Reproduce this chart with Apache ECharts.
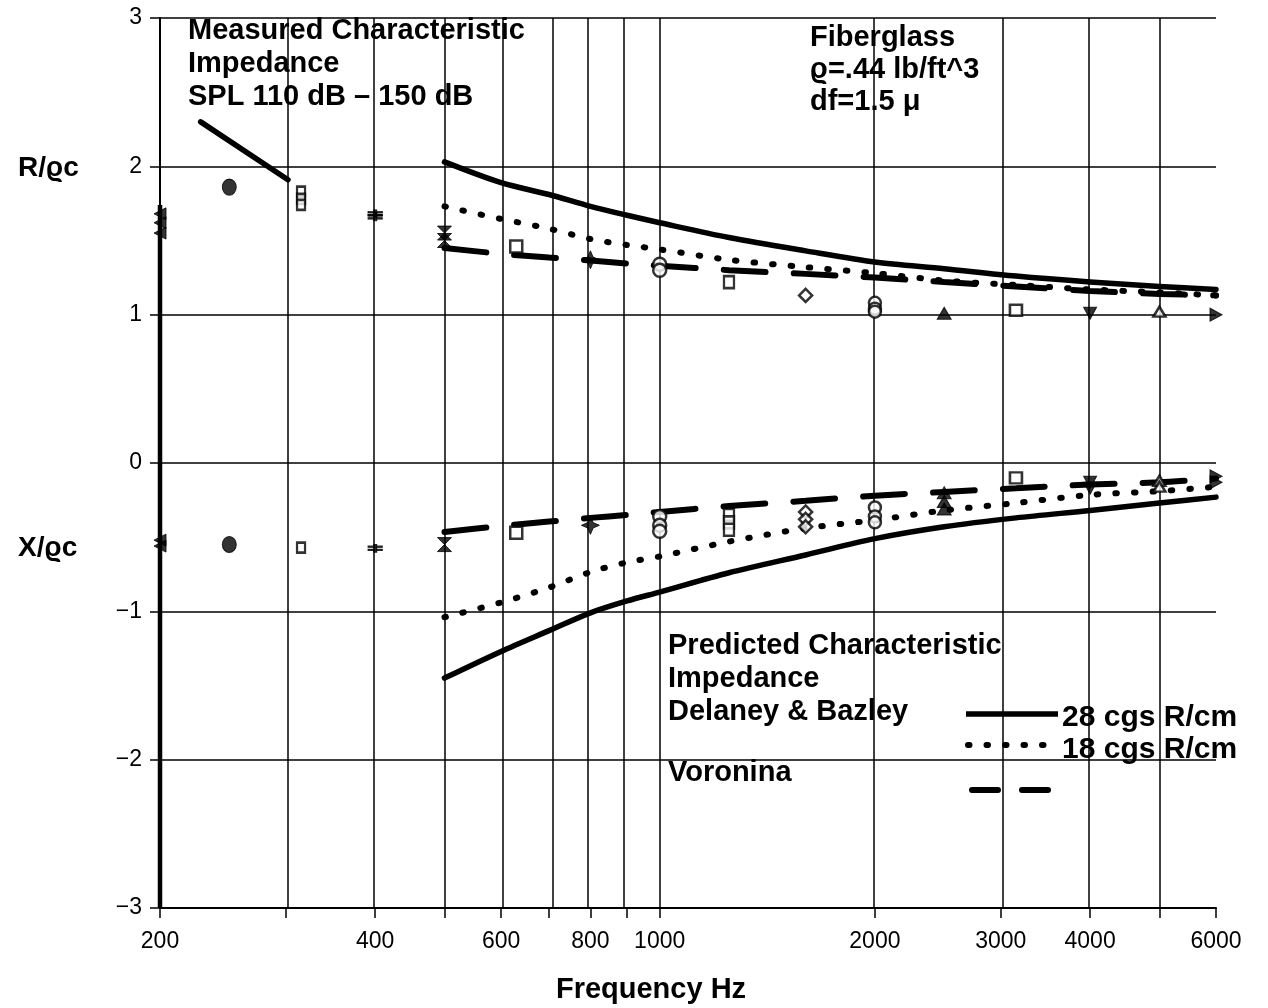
<!DOCTYPE html>
<html><head><meta charset="utf-8">
<script src="https://cdn.jsdelivr.net/npm/echarts@6/dist/echarts.min.js"></script>
<style>html,body{margin:0;padding:0;background:#fff}#c{width:1268px;height:1008px}</style>
</head><body><div id="c"></div>
<script>
// ---------- data ----------
const gridFreqs = [200,300,400,500,600,700,800,900,1000,2000,3000,4000,5000,6000];
const labelFreqs = [200,400,600,800,1000,2000,3000,4000,6000];
const yTicks = [-3,-2,-1,0,1,2,3];

const predFreqs = [500,600,700,800,900,1000,1250,1600,2000,2500,3150,4000,5000,6000];
// Delaney & Bazley, 28 cgs R/cm
const r28 = [2.03,1.89,1.81,1.73,1.67,1.62,1.52,1.43,1.355,1.31,1.26,1.22,1.19,1.17];
const x28 = [-1.45,-1.27,-1.13,-1.01,-0.93,-0.87,-0.74,-0.62,-0.51,-0.43,-0.37,-0.32,-0.27,-0.23];
// Delaney & Bazley, 18 cgs R/cm
const r18 = [1.73,1.645,1.58,1.51,1.47,1.44,1.37,1.32,1.28,1.23,1.20,1.17,1.15,1.13];
const x18 = [-1.04,-0.94,-0.84,-0.735,-0.67,-0.63,-0.53,-0.44,-0.385,-0.32,-0.27,-0.215,-0.19,-0.16];
// Voronina
const rVor = [1.45,1.41,1.385,1.365,1.345,1.33,1.30,1.275,1.25,1.22,1.19,1.16,1.14,1.13];
const xVor = [-0.465,-0.425,-0.395,-0.37,-0.35,-0.33,-0.29,-0.255,-0.22,-0.195,-0.17,-0.145,-0.13,-0.105];

// Measured, third-octave bands
const measFreqs = [200,250,315,400,500,630,800,1000,1250,1600,2000,2500,3150,4000,5000,6000];
const measR = [[1.68,1.62,1.55],[1.86],[1.83,1.78,1.74],[1.68,1.66],[1.55,1.50],[1.46],[1.37],[1.34,1.30],[1.22],[1.13],[1.08,1.04,1.02],[1.01],[1.03],[1.01],[1.02],[1.00]];
const measX = [[-0.52,-0.56],[-0.55],[-0.57],[-0.575],[-0.55],[-0.47],[-0.42],[-0.36,-0.42,-0.46],[-0.35,-0.40,-0.45],[-0.33,-0.38,-0.43],[-0.30,-0.36,-0.40],[-0.20,-0.26,-0.31],[-0.10],[-0.13,-0.17],[-0.12,-0.16],[-0.09,-0.13]];

// measured leader segment and the heavy 200 Hz bar
const leadFreqs = [228,302];
const leadVals = [2.30,1.91];
const barFreqs = [200,200];
const barVals = [1.74,-3];

// ---------- styles ----------
const FONT = '"Liberation Sans", Arial, Helvetica, sans-serif';
const markStyles = [
  {s:'triangle', r:90, sz:[12,12], hollow:false},
  {s:'circle', r:0, sz:[14,16], hollow:false},
  {s:'rect', r:0, sz:[8,10], hollow:true},
  {s:'path://M0,0H10V2H0Z M0,4H10V6H0Z M4,-2H6V8H4Z', r:0, sz:[14,8], hollow:false},
  {s:'path://M0,0L10,0L5,5L10,10L0,10L5,5Z', r:0, sz:[14,14], hollow:false},
  {s:'rect', r:0, sz:[12,12], hollow:true},
  {s:'path://M5,0L6.5,3.5L10,5L6.5,6.5L5,10L3.5,6.5L0,5L3.5,3.5Z', r:0, sz:[18,18], hollow:false},
  {s:'circle', r:0, sz:[13,13], hollow:true},
  {s:'rect', r:0, sz:[10,12], hollow:true},
  {s:'diamond', r:0, sz:[13,13], hollow:true},
  {s:'circle', r:0, sz:[12,12], hollow:true},
  {s:'triangle', r:0, sz:[14,12], hollow:false},
  {s:'rect', r:0, sz:[12,11], hollow:true},
  {s:'triangle', r:180, sz:[13,12], hollow:false},
  {s:'triangle', r:0, sz:[12,10], hollow:true},
  {s:'triangle', r:-90, sz:[13,12], hollow:false}
];

const L = Math.log10;
const pts = (fs, vs) => fs.map((f,i)=>[L(f), vs[i]]);
function measData(vals){
  const out=[];
  measFreqs.forEach((f,i)=>{
    const st = markStyles[i];
    vals[i].forEach(v=>{
      out.push({value:[L(f),v], symbol:st.s, symbolRotate:st.r, symbolSize:st.sz,
        itemStyle: st.hollow ? {color:'#fff', borderColor:'#000', borderWidth:2.5} : {color:'#000', borderColor:'#000', borderWidth:1}});
    });
  });
  return out;
}

const chart = echarts.init(document.getElementById('c'), null, {renderer:'canvas'});
const solid = {color:'#000', width:5.5, type:'solid', cap:'round', join:'round'};
const dotted = {color:'#000', width:6, type:[1.5,17], cap:'round'};
const dashed = {color:'#000', width:6, type:[42,28], cap:'round'};

const txt = (t, x, y, size, bold, lh, align) => ({
  type:'text', x:x, y:y, z:100,
  style:{text:t, fill:'#000', font:(bold?'bold ':'')+size+'px '+FONT, lineHeight:lh||size*1.3, verticalAlign:'top', align:align||'left'}
});

chart.setOption({
  animation:false,
  backgroundColor:'#fff',
  grid:{left:160, right:52, top:18, bottom:100, containLabel:false},
  xAxis:{
    type:'value', min:L(200), max:L(6000),
    axisLine:{show:true, onZero:false, lineStyle:{color:'#000', width:2}},
    axisTick:{show:true, customValues:gridFreqs.map(L), length:10, lineStyle:{color:'#000', width:1.5}},
    axisLabel:{customValues:labelFreqs.map(L), formatter:v=>String(Math.round(Math.pow(10,v))),
      fontFamily:FONT, fontSize:23, color:'#000', margin:22},
    splitLine:{show:false}
  },
  yAxis:{
    type:'value', min:yTicks[0], max:yTicks[yTicks.length-1], interval:1,
    axisLine:{show:true, lineStyle:{color:'#000', width:2}},
    axisTick:{show:true, length:10, lineStyle:{color:'#000', width:1.5}},
    axisLabel:{formatter:v=> v<0 ? '\u2212'+Math.abs(v) : String(v), fontFamily:FONT, fontSize:23, color:'#000', margin:18},
    splitLine:{show:true, lineStyle:{color:'#000', width:1.5}}
  },
  series:[
    {type:'line', data:[], z:1, silent:true,
      markLine:{silent:true, symbol:['none','none'], label:{show:false}, animation:false,
        lineStyle:{color:'#000', width:1.5, type:'solid'},
        emphasis:{disabled:true},
        data:gridFreqs.map(f=>({xAxis:L(f)}))}},
    {name:'28 cgs R/cm', type:'line', data:pts(predFreqs,r28), symbol:'none', smooth:0.3, lineStyle:solid, z:5},
    {name:'28 cgs R/cm', type:'line', data:pts(predFreqs,x28), symbol:'none', smooth:0.3, lineStyle:solid, z:5},
    {name:'18 cgs R/cm', type:'line', data:pts(predFreqs,r18), symbol:'none', smooth:0.3, lineStyle:dotted, z:5},
    {name:'18 cgs R/cm', type:'line', data:pts(predFreqs,x18), symbol:'none', smooth:0.3, lineStyle:dotted, z:5},
    {name:'Voronina', type:'line', data:pts(predFreqs,rVor), symbol:'none', smooth:0.3, lineStyle:dashed, z:5},
    {name:'Voronina', type:'line', data:pts(predFreqs,xVor), symbol:'none', smooth:0.3, lineStyle:dashed, z:5},
    {name:'lead', type:'line', data:pts(leadFreqs,leadVals), symbol:'none', lineStyle:solid, z:5},
    {name:'bar', type:'line', data:pts(barFreqs,barVals), symbol:'none', lineStyle:{color:'#000', width:4.5}, z:5},
    {name:'Measured R', type:'scatter', data:measData(measR), z:6},
    {name:'Measured X', type:'scatter', data:measData(measX), z:6}
  ],
  graphic:[
    txt('Measured Characteristic\nImpedance\nSPL 110 dB \u2013 150 dB', 188, 14, 29, true, 33),
    txt('Fiberglass\n\u03f1=.44 lb/ft^3\ndf=1.5 \u03bc', 810, 22, 29, true, 32),
    txt('Predicted Characteristic\nImpedance\nDelaney & Bazley', 668, 629, 29, true, 33),
    txt('Voronina', 668, 758, 29, true, 30),
    txt('28 cgs R/cm', 1062, 703, 30, true, 30),
    txt('18 cgs R/cm', 1062, 735, 30, true, 30),
    txt('R/\u03f1c', 18, 152, 28, true, 32),
    txt('X/\u03f1c', 18, 532, 28, true, 32),
    txt('Frequency Hz', 651, 974, 29, true, 32, 'center'),
    {type:'line', z:100, shape:{x1:966,y1:714,x2:1058,y2:714}, style:{stroke:'#000', lineWidth:5.5}},
    {type:'line', z:100, shape:{x1:968,y1:745,x2:1058,y2:745}, style:{stroke:'#000', lineWidth:6, lineDash:[1.5,17], lineCap:'round'}},
    {type:'line', z:100, shape:{x1:972,y1:790,x2:1056,y2:790}, style:{stroke:'#000', lineWidth:6, lineDash:[26,24], lineCap:'round'}}
  ]
});
</script></body></html>
